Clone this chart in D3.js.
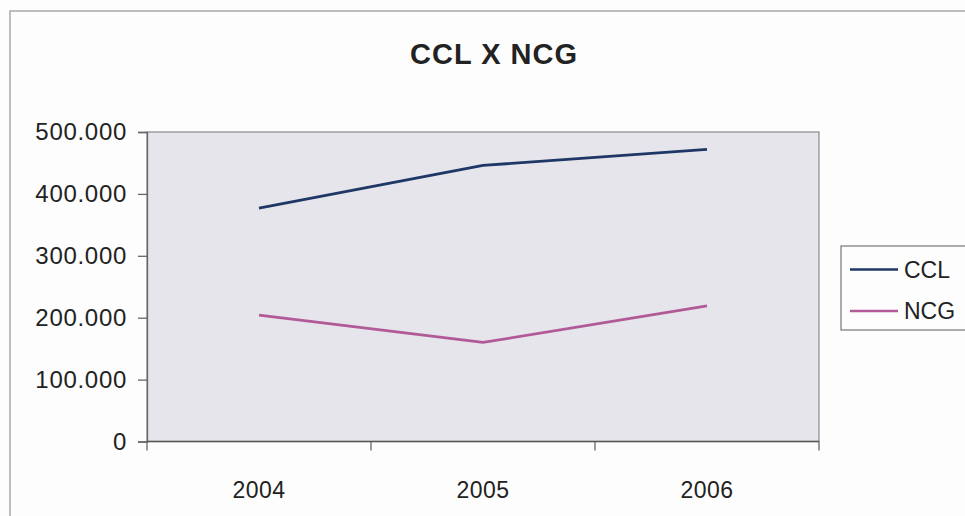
<!DOCTYPE html>
<html>
<head>
<meta charset="utf-8">
<script src="https://cdn.jsdelivr.net/npm/d3@7"></script>
<style>
  html, body { margin: 0; padding: 0; background: #fdfdfd; }
  svg { display: block; }
  text { font-family: Arial, "Liberation Sans", sans-serif; fill: #222; }
</style>
</head>
<body>
<svg id="chart" width="965" height="516"></svg>
<script>
// Chart data
const years = ["2004", "2005", "2006"];
const ccl = [377000, 446000, 472000];
const ncg = [204000, 160000, 219000];
const seriesNames = ["CCL", "NCG"];
const yTicks = [0, 100000, 200000, 300000, 400000, 500000];
const title = "CCL X NCG";

const seriesColors = ["#1f3766", "#b25a98"];
const series = [ccl, ncg];

const svg = d3.select("#chart");
const W = 965, H = 516;

// Outer chart frame (top and left edges visible)
svg.append("path")
  .attr("d", "M10," + (H + 5) + " V11 H" + (W + 5))
  .attr("fill", "none")
  .attr("stroke", "#a9a9a9")
  .attr("stroke-width", 1.5);

const plot = { left: 147, right: 819, top: 132, bottom: 441.5 };

const x = d3.scaleBand().domain(years).range([plot.left, plot.right]);
const y = d3.scaleLinear().domain([0, 500000]).range([plot.bottom, plot.top]);

const ptBR = d3.formatLocale({ decimal: ",", thousands: ".", grouping: [3], currency: ["R$", ""] });
const fmt = ptBR.format(",.0f");

// Plot area background
svg.append("rect")
  .attr("x", plot.left).attr("y", plot.top)
  .attr("width", plot.right - plot.left).attr("height", plot.bottom - plot.top)
  .attr("fill", "#e5e5eb")
  .attr("stroke", "#8a8a8a")
  .attr("stroke-width", 1.2);

// Title
svg.append("text")
  .attr("x", 494)
  .attr("y", 64)
  .attr("text-anchor", "middle")
  .style("font-size", "29px")
  .style("font-weight", "bold")
  .style("letter-spacing", "1px")
  .text(title);

// Y axis
const yAxis = d3.axisLeft(y).tickValues(yTicks).tickFormat(fmt).tickSize(9).tickPadding(11);
const gy = svg.append("g").attr("transform", `translate(${plot.left},0)`).call(yAxis);
gy.select(".domain").attr("stroke", "#666").attr("stroke-width", 1.3);
gy.selectAll(".tick line").attr("stroke", "#666").attr("stroke-width", 1.3);
gy.selectAll(".tick text")
  .attr("font-family", null)
  .style("font-size", "24px")
  .style("letter-spacing", "0.7px")
  .attr("fill", "#333");

// X axis: ticks at category boundaries, labels centred in bands
const gx = svg.append("g").attr("transform", `translate(0,${plot.bottom})`);
gx.append("line")
  .attr("x1", plot.left).attr("x2", plot.right)
  .attr("stroke", "#555").attr("stroke-width", 1.5);
const boundaries = years.map(d => x(d)).concat([x(years[years.length - 1]) + x.bandwidth()]);
gx.selectAll("line.tk").data(boundaries).enter().append("line")
  .attr("class", "tk")
  .attr("x1", d => d).attr("x2", d => d)
  .attr("y1", 0).attr("y2", 9)
  .attr("stroke", "#666").attr("stroke-width", 1.3);
gx.selectAll("text").data(years).enter().append("text")
  .attr("x", d => x(d) + x.bandwidth() / 2)
  .attr("y", 56)
  .attr("text-anchor", "middle")
  .style("font-size", "23px")
  .style("letter-spacing", "0.5px")
  .attr("fill", "#333")
  .text(d => d);

// Series lines
const line = d3.line()
  .x((d, i) => x(years[i]) + x.bandwidth() / 2)
  .y(d => y(d));

series.forEach((s, i) => {
  svg.append("path")
    .datum(s)
    .attr("d", line)
    .attr("fill", "none")
    .attr("stroke", seriesColors[i])
    .attr("stroke-width", 2.8)
    .attr("stroke-linejoin", "round");
});

// Legend
const lg = svg.append("g");
lg.append("rect")
  .attr("x", 841).attr("y", 246)
  .attr("width", 140).attr("height", 84)
  .attr("fill", "#fdfdfd")
  .attr("stroke", "#777")
  .attr("stroke-width", 1.2);
seriesNames.forEach((name, i) => {
  const cy = 269.5 + i * 41.5;
  lg.append("line")
    .attr("x1", 850).attr("x2", 898)
    .attr("y1", cy).attr("y2", cy)
    .attr("stroke", seriesColors[i])
    .attr("stroke-width", 2.4);
  lg.append("text")
    .attr("x", 904).attr("y", cy + 8)
    .style("font-size", "23px")
    .attr("fill", "#333")
    .text(name);
});
</script>
</body>
</html>
